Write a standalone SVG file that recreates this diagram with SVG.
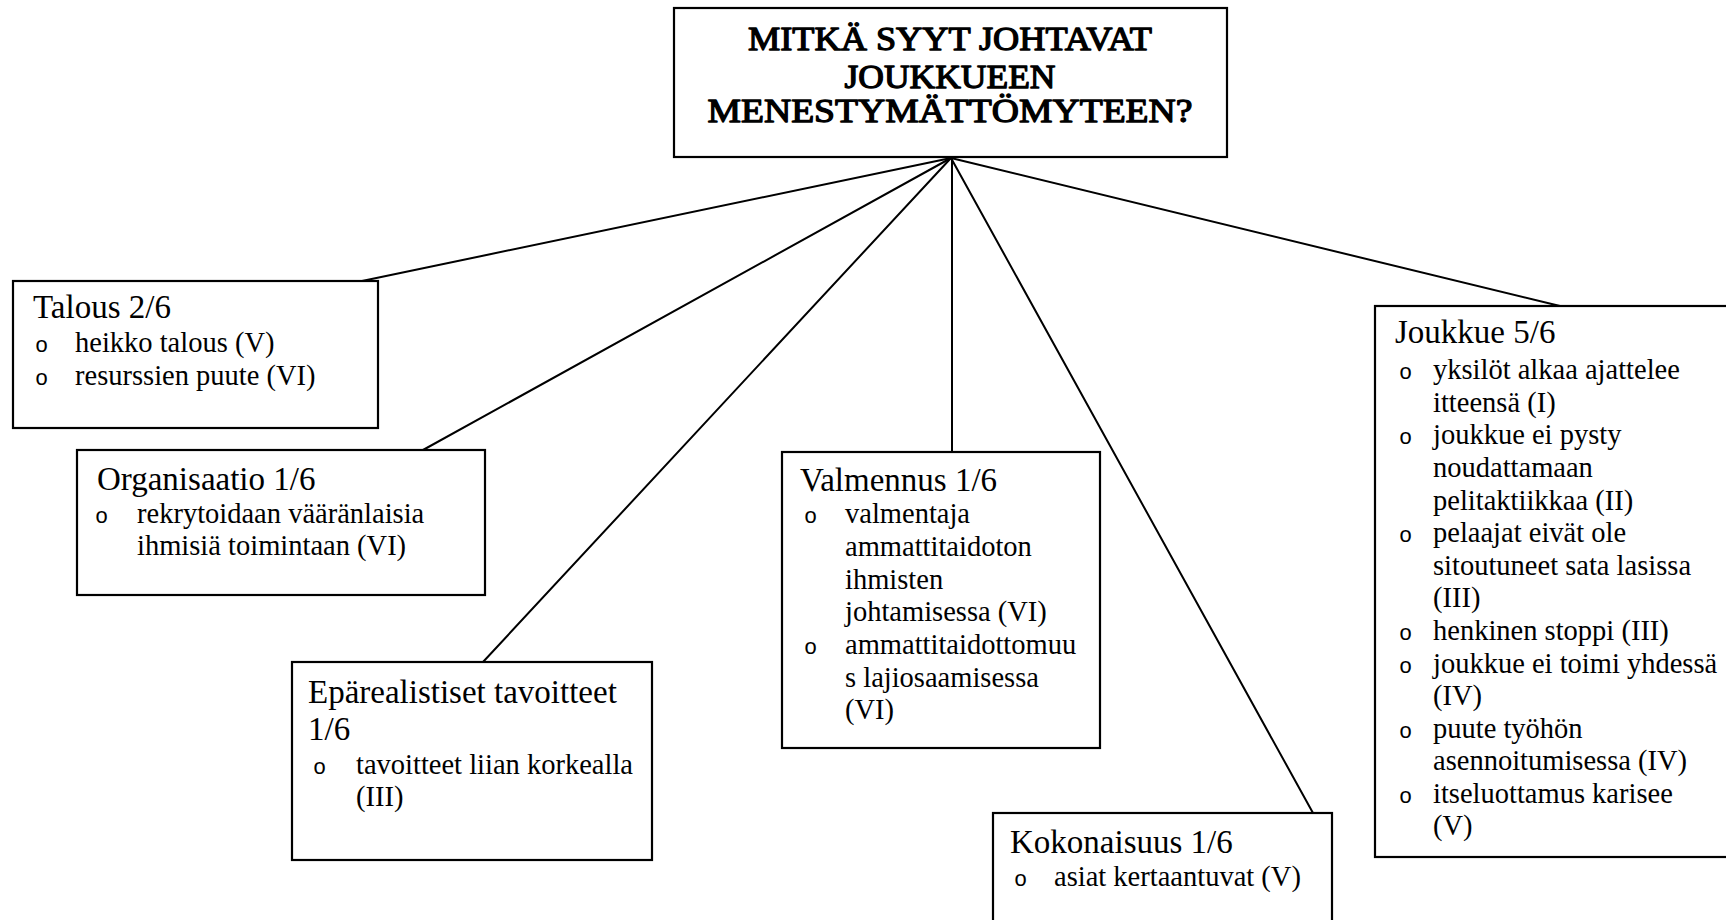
<svg xmlns="http://www.w3.org/2000/svg" width="1726" height="920" viewBox="0 0 1726 920">
  <style>
    .box { fill: #ffffff; stroke: #000000; stroke-width: 2.2; }
    .title { font-family: "Liberation Serif", "Times New Roman", serif; font-weight: normal; font-size: 34px; fill: #000; stroke: #000; stroke-width: 1.3; stroke-linejoin: round; text-anchor: middle; }
    .head { font-family: "Liberation Serif", "Times New Roman", serif; font-size: 33px; fill: #000; }
    .item { font-family: "Liberation Serif", "Times New Roman", serif; font-size: 28.5px; fill: #000; }
    .bul { font-family: "Liberation Mono", "Courier New", monospace; font-size: 22px; fill: #000; }
    .link { stroke: #000000; stroke-width: 2; fill: none; stroke-linecap: round; }
  </style>
  <rect width="1726" height="920" fill="#ffffff"/>

  <!-- connectors from the central question to each cause -->
  <g id="connectors">
    <line class="link" x1="951" y1="158" x2="362" y2="281"/>
    <line class="link" x1="951" y1="158" x2="423" y2="450"/>
    <line class="link" x1="951" y1="158" x2="483" y2="662"/>
    <line class="link" x1="952" y1="158" x2="952" y2="452"/>
    <line class="link" x1="951" y1="158" x2="1313" y2="813"/>
    <line class="link" x1="951" y1="158" x2="1560" y2="306"/>
  </g>

  <g id="question">
    <rect class="box" x="674" y="8" width="553" height="149"/>
    <text class="title" x="950" y="50" textLength="404" lengthAdjust="spacingAndGlyphs">MITKÄ SYYT JOHTAVAT</text>
    <text class="title" x="950" y="88" textLength="211" lengthAdjust="spacingAndGlyphs">JOUKKUEEN</text>
    <text class="title" x="950" y="122" textLength="485" lengthAdjust="spacingAndGlyphs">MENESTYMÄTTÖMYTEEN?</text>
  </g>

  <g id="talous">
    <rect class="box" x="13" y="281" width="365" height="147"/>
    <text class="head" x="33" y="318">Talous 2/6</text>
    <text class="bul" x="35" y="352">o</text>
    <text class="item" x="75" y="352">heikko talous (V)</text>
    <text class="bul" x="35" y="385">o</text>
    <text class="item" x="75" y="385">resurssien puute (VI)</text>
  </g>

  <g id="organisaatio">
    <rect class="box" x="77" y="450" width="408" height="145"/>
    <text class="head" x="97" y="490">Organisaatio 1/6</text>
    <text class="bul" x="95" y="523">o</text>
    <text class="item" x="137" y="523">rekrytoidaan vääränlaisia</text>
    <text class="item" x="137" y="555">ihmisiä toimintaan (VI)</text>
  </g>

  <g id="eparealistiset">
    <rect class="box" x="292" y="662" width="360" height="198"/>
    <text class="head" x="308" y="703">Epärealistiset tavoitteet</text>
    <text class="head" x="308" y="740">1/6</text>
    <text class="bul" x="313" y="774">o</text>
    <text class="item" x="356" y="774">tavoitteet liian korkealla</text>
    <text class="item" x="356" y="806">(III)</text>
  </g>

  <g id="valmennus">
    <rect class="box" x="782" y="452" width="318" height="296"/>
    <text class="head" x="800" y="491">Valmennus 1/6</text>
    <text class="bul" x="804" y="523">o</text>
    <text class="item" x="845" y="523">valmentaja</text>
    <text class="item" x="845" y="556">ammattitaidoton</text>
    <text class="item" x="845" y="589">ihmisten</text>
    <text class="item" x="845" y="621">johtamisessa (VI)</text>
    <text class="bul" x="804" y="654">o</text>
    <text class="item" x="845" y="654">ammattitaidottomuu</text>
    <text class="item" x="845" y="687">s lajiosaamisessa</text>
    <text class="item" x="845" y="719">(VI)</text>
  </g>

  <g id="kokonaisuus">
    <rect class="box" x="993" y="813" width="339" height="120"/>
    <text class="head" x="1010" y="853">Kokonaisuus 1/6</text>
    <text class="bul" x="1014" y="886">o</text>
    <text class="item" x="1054" y="886">asiat kertaantuvat (V)</text>
  </g>

  <g id="joukkue">
    <rect class="box" x="1375" y="306" width="360" height="551"/>
    <text class="head" x="1395" y="343">Joukkue 5/6</text>
    <text class="bul" x="1399" y="379">o</text>
    <text class="item" x="1433" y="379">yksilöt alkaa ajattelee</text>
    <text class="item" x="1433" y="412">itteensä (I)</text>
    <text class="bul" x="1399" y="444">o</text>
    <text class="item" x="1433" y="444">joukkue ei pysty</text>
    <text class="item" x="1433" y="477">noudattamaan</text>
    <text class="item" x="1433" y="510">pelitaktiikkaa (II)</text>
    <text class="bul" x="1399" y="542">o</text>
    <text class="item" x="1433" y="542">pelaajat eivät ole</text>
    <text class="item" x="1433" y="575">sitoutuneet sata lasissa</text>
    <text class="item" x="1433" y="607">(III)</text>
    <text class="bul" x="1399" y="640">o</text>
    <text class="item" x="1433" y="640">henkinen stoppi (III)</text>
    <text class="bul" x="1399" y="673">o</text>
    <text class="item" x="1433" y="673">joukkue ei toimi yhdessä</text>
    <text class="item" x="1433" y="705">(IV)</text>
    <text class="bul" x="1399" y="738">o</text>
    <text class="item" x="1433" y="738">puute työhön</text>
    <text class="item" x="1433" y="770">asennoitumisessa (IV)</text>
    <text class="bul" x="1399" y="803">o</text>
    <text class="item" x="1433" y="803">itseluottamus karisee</text>
    <text class="item" x="1433" y="835">(V)</text>
  </g>
</svg>
